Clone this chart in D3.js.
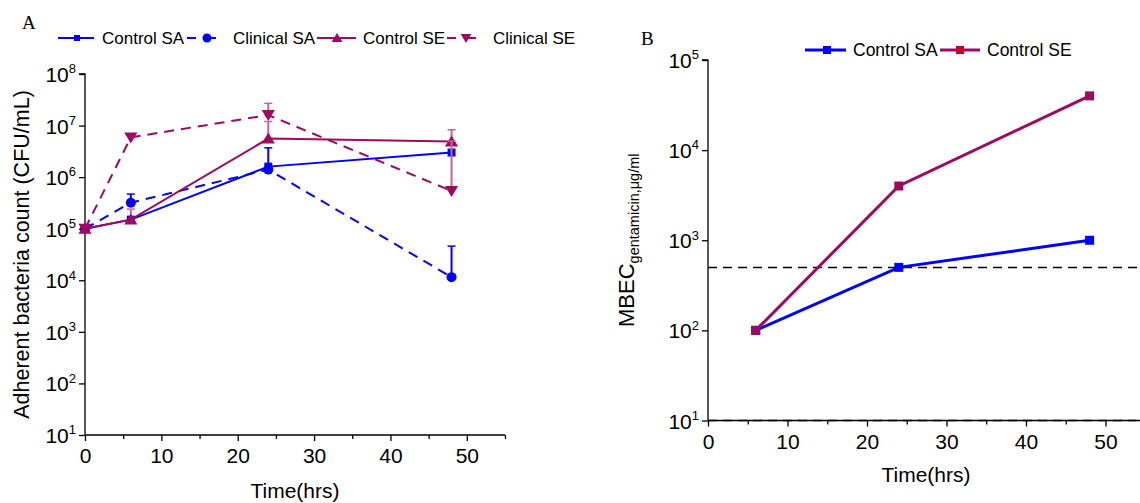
<!DOCTYPE html>
<html>
<head>
<meta charset="utf-8">
<script src="https://cdn.jsdelivr.net/npm/d3@7"></script>
<style>
  html, body { margin: 0; padding: 0; background: #fff; }
  svg { display: block; font-family: "Liberation Sans", Arial, sans-serif; }
</style>
</head>
<body>
<svg id="fig" width="1140" height="503"></svg>
<script>
// ---- Panel A: adherent bacteria count over time ----
const timesA = [0, 6, 24, 48];
const controlSA = [1e5, 1.5e5, 1.6e6, 3.0e6];
const clinicalSA = [1e5, 3.2e5, 1.4e6, 1.15e4];
const controlSE = [1e5, 1.5e5, 5.6e6, 4.9e6];
const clinicalSE = [1e5, 5.9e6, 1.6e7, 5.4e5];
// upper ends of the error bars (null = no bar)
const controlSAUpper = [null, null, 3.7e6, null];
const clinicalSAUpper = [null, 4.7e5, null, 4.6e4];
const controlSEUpper = [null, 2.4e5, 1.2e7, 8.3e6];
const clinicalSEUpper = [null, null, 2.7e7, 5.0e6];
const seriesNamesA = ["Control SA", "Clinical SA", "Control SE", "Clinical SE"];
const yTickExpA = [1, 2, 3, 4, 5, 6, 7, 8];

// ---- Panel B: MBEC of gentamicin ----
const timesB = [6, 24, 48];
const mbecSA = [100, 500, 1000];
const mbecSE = [100, 4000, 40000];
const seriesNamesB = ["Control SA", "Control SE"];
const refLevelsB = [500, 10];
const yTickExpB = [1, 2, 3, 4, 5];

const BLUE = "#0000ff";
const WINE = "#9e0b5e";
const WINE_LIGHT = "#c46597";

const svg = d3.select("#fig");

function powLabel(sel, exp, fs) {
  sel.text(null);
  sel.append("tspan").text("10");
  sel.append("tspan").attr("font-size", fs * 0.62).attr("dy", -fs * 0.42).text(exp);
}

function markerPath(type, size) {
  const s = size;
  if (type === "square") return `M${-s/2},${-s/2}h${s}v${s}h${-s}Z`;
  if (type === "triUp") return `M0,${-s*0.55}L${s*0.6},${s*0.45}L${-s*0.6},${s*0.45}Z`;
  if (type === "triDown") return `M0,${s*0.55}L${s*0.6},${-s*0.45}L${-s*0.6},${-s*0.45}Z`;
  return null;
}

function drawMarker(g, type, x, y, color, size) {
  if (type === "circle") {
    g.append("circle").attr("cx", x).attr("cy", y).attr("r", size / 2).attr("fill", color);
  } else {
    g.append("path").attr("d", markerPath(type, size)).attr("transform", `translate(${x},${y})`).attr("fill", color);
  }
}

function styleBottomAxis(gx) {
  gx.selectAll(".tick line").attr("y2", d => d % 10 === 0 ? 6 : 4);
  gx.selectAll(".tick text").attr("font-size", 21).attr("dy", "0.6em").attr("y", 15.5).attr("fill", "#000");
}

// ================= Panel A =================
const xA = d3.scaleLinear().domain([0, 55]).range([85, 505]);
const yA = d3.scaleLog().domain([1e1, 1e8]).range([435, 74]);

const gA = svg.append("g");

// x axis
const xAxisA = d3.axisBottom(xA).tickValues(d3.range(0, 56, 5)).tickSize(5).tickFormat(d => d % 10 === 0 ? d : "");
const gxA = gA.append("g").attr("transform", `translate(0,${yA(1e1)})`).call(xAxisA);
styleBottomAxis(gxA);
gxA.select(".domain").attr("d", `M${xA(0)},0H${xA(55)}`);
gxA.selectAll("path, line").attr("stroke", "#000").attr("stroke-width", 1.3);

// y axis
const yAxisA = d3.axisLeft(yA).tickValues(yTickExpA.map(e => Math.pow(10, e))).tickSize(6);
const gyA = gA.append("g").attr("transform", `translate(${xA(0)},0)`).call(yAxisA);
gyA.select(".domain").attr("d", `M0,${yA(1e1)}V${yA(1e8)}H-6`);
gyA.selectAll("path, line").attr("stroke", "#000").attr("stroke-width", 1.3);
gyA.selectAll(".tick text").attr("font-size", 21).attr("fill", "#000").attr("x", -9).attr("dy", "0.36em")
  .each(function(d) { powLabel(d3.select(this), Math.round(Math.log10(d)), 21); });

// axis titles
gA.append("text").attr("transform", `translate(29,${(yA(1e1) + yA(1e8)) / 2}) rotate(-90)`)
  .attr("text-anchor", "middle").attr("font-size", 21.5).text("Adherent bacteria count (CFU/mL)");
gA.append("text").attr("x", (xA(0) + xA(55)) / 2).attr("y", 498).attr("text-anchor", "middle")
  .attr("font-size", 21).text("Time(hrs)");

// series
const seriesA = [
  { name: seriesNamesA[0], vals: controlSA, upper: controlSAUpper, color: BLUE, errColor: BLUE, dash: null, marker: "square", msize: 8 },
  { name: seriesNamesA[1], vals: clinicalSA, upper: clinicalSAUpper, color: BLUE, errColor: BLUE, dash: "10,7", marker: "circle", msize: 10 },
  { name: seriesNamesA[2], vals: controlSE, upper: controlSEUpper, color: WINE, errColor: WINE_LIGHT, dash: null, marker: "triUp", msize: 11 },
  { name: seriesNamesA[3], vals: clinicalSE, upper: clinicalSEUpper, color: WINE, errColor: WINE_LIGHT, dash: "10,7", marker: "triDown", msize: 11 }
];

const lineA = d3.line().x((d, i) => xA(timesA[i])).y(d => yA(d));

seriesA.forEach(s => {
  const g = gA.append("g");
  // error bars (upper only)
  s.upper.forEach((u, i) => {
    if (u == null) return;
    const x = xA(timesA[i]);
    g.append("line").attr("x1", x).attr("x2", x).attr("y1", yA(s.vals[i])).attr("y2", yA(u))
      .attr("stroke", s.errColor).attr("stroke-width", 2);
    g.append("line").attr("x1", x - 4).attr("x2", x + 4).attr("y1", yA(u)).attr("y2", yA(u))
      .attr("stroke", s.errColor).attr("stroke-width", 1.5);
  });
  g.append("path").attr("d", lineA(s.vals)).attr("fill", "none").attr("stroke", s.color)
    .attr("stroke-width", 2).attr("stroke-dasharray", s.dash);
  s.vals.forEach((v, i) => drawMarker(g, s.marker, xA(timesA[i]), yA(v), s.color, s.msize));
});

// panel letter
svg.append("text").attr("x", 22).attr("y", 29).attr("font-family", "Liberation Serif, Times New Roman, serif")
  .attr("font-size", 19).text("A");

// legend A
const legA = svg.append("g").attr("font-size", 17);
const legItemsA = [
  { s: seriesA[0], x1: 58, x2: 94, mx: 77, tx: 102 },
  { s: seriesA[1], x1: 187, x2: 217, mx: 207, tx: 233 },
  { s: seriesA[2], x1: 317, x2: 356, mx: 337, tx: 363 },
  { s: seriesA[3], x1: 447, x2: 477, mx: 466, tx: 493 }
];
const legYA = 38;
legItemsA.forEach(it => {
  legA.append("line").attr("x1", it.x1).attr("x2", it.x2).attr("y1", legYA).attr("y2", legYA)
    .attr("stroke", it.s.color).attr("stroke-width", 2).attr("stroke-dasharray", it.s.dash ? "9,11" : null);
  drawMarker(legA, it.s.marker, it.mx, legYA, it.s.color, it.s.marker === "circle" ? 9 : it.s.msize - 2);
  legA.append("text").attr("x", it.tx).attr("y", legYA + 6).text(it.s.name);
});

// ================= Panel B =================
const xB = d3.scaleLinear().domain([0, 55]).range([708, 708 + 55 * 7.95]);
const yB = d3.scaleLog().domain([1e1, 1e5]).range([420.5, 60]);

const gB = svg.append("g");

// dashed reference levels
refLevelsB.forEach(v => {
  gB.append("line").attr("x1", xB(0)).attr("x2", 1140).attr("y1", yB(v)).attr("y2", yB(v))
    .attr("stroke", "#000").attr("stroke-width", 1.5).attr("stroke-dasharray", "9,6");
});

const xAxisB = d3.axisBottom(xB).tickValues(d3.range(0, 56, 5)).tickSize(5).tickFormat(d => d % 10 === 0 ? d : "");
const gxB = gB.append("g").attr("transform", `translate(0,${yB(1e1)})`).call(xAxisB);
styleBottomAxis(gxB);
gxB.select(".domain").attr("d", `M${xB(0)},0H1140`);
gxB.selectAll("path, line").attr("stroke", "#000").attr("stroke-width", 1.3);

const yAxisB = d3.axisLeft(yB).tickValues(yTickExpB.map(e => Math.pow(10, e))).tickSize(6);
const gyB = gB.append("g").attr("transform", `translate(${xB(0)},0)`).call(yAxisB);
gyB.select(".domain").attr("d", `M0,${yB(1e1)}V${yB(1e5)}H-6`);
gyB.selectAll("path, line").attr("stroke", "#000").attr("stroke-width", 1.3);
gyB.selectAll(".tick text").attr("font-size", 21).attr("fill", "#000").attr("x", -9).attr("dy", "0.36em")
  .each(function(d) { powLabel(d3.select(this), Math.round(Math.log10(d)), 21); });

// axis titles B
const yTitleB = gB.append("text").attr("transform", `translate(634,${(yB(1e1) + yB(1e5)) / 2}) rotate(-90)`)
  .attr("text-anchor", "middle").attr("font-size", 22);
yTitleB.append("tspan").text("MBEC");
yTitleB.append("tspan").attr("font-size", 14.5).attr("dy", 5).text("gentamicin,\u03bcg/ml");
gB.append("text").attr("x", (xB(0) + 1140) / 2 + 2).attr("y", 482).attr("text-anchor", "middle")
  .attr("font-size", 21).text("Time(hrs)");

const seriesB = [
  { name: seriesNamesB[0], vals: mbecSA, color: BLUE, legMarker: BLUE },
  { name: seriesNamesB[1], vals: mbecSE, color: WINE, legMarker: "#c4002e" }
];
const lineB = d3.line().x((d, i) => xB(timesB[i])).y(d => yB(d));
seriesB.forEach(s => {
  const g = gB.append("g");
  g.append("path").attr("d", lineB(s.vals)).attr("fill", "none").attr("stroke", s.color).attr("stroke-width", 3);
  s.vals.forEach((v, i) => drawMarker(g, "square", xB(timesB[i]), yB(v), s.color, 9));
});

svg.append("text").attr("x", 641).attr("y", 45).attr("font-family", "Liberation Serif, Times New Roman, serif")
  .attr("font-size", 19).text("B");

// legend B
const legB = svg.append("g").attr("font-size", 17.5);
const legItemsB = [
  { s: seriesB[0], x1: 805, x2: 846, mx: 827, tx: 853 },
  { s: seriesB[1], x1: 940, x2: 980, mx: 960, tx: 987 }
];
const legYB = 50;
legItemsB.forEach(it => {
  legB.append("line").attr("x1", it.x1).attr("x2", it.x2).attr("y1", legYB).attr("y2", legYB)
    .attr("stroke", it.s.color).attr("stroke-width", 3);
  drawMarker(legB, "square", it.mx, legYB, it.s.legMarker, 8);
  legB.append("text").attr("x", it.tx).attr("y", legYB + 6).text(it.s.name);
});
</script>
</body>
</html>
